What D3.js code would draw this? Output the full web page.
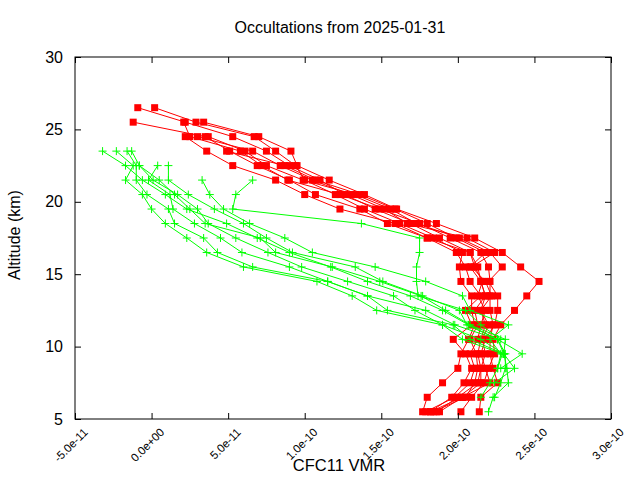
<!DOCTYPE html>
<html><head><meta charset="utf-8">
<script src="https://cdn.jsdelivr.net/npm/d3@7"></script>
<style>html,body{margin:0;padding:0;background:#fff;}svg{display:block;font-family:"Liberation Sans",Arial,sans-serif;}</style>
</head><body>
<svg id="chart" width="640" height="480"></svg>
<script>
// Altitude levels (km) shared by all profiles
const levels = [26.5,25.5,24.5,23.5,22.5,21.5,20.5,19.5,18.5,17.5,16.5,15.5,14.5,13.5,12.5,11.5,10.5,9.5,8.5,7.5,6.5,5.5];
// VMR values in units of 1e-10 (null = no measurement)
const UNIT = 1e-10;
const redProfiles = [
  [-0.09,0.22,0.53,0.75,0.90,1.10,1.26,1.46,1.69,1.88,2.08,2.13,2.15,2.18,2.15,2.18,2.15,2.13,2.15,2.15,2.03,1.88],
  [0.02,0.29,0.67,0.81,0.94,1.00,1.20,1.39,1.62,1.84,2.03,2.01,2.02,2.09,2.09,2.11,2.07,2.02,2.00,1.90,1.80,1.77],
  [null,-0.12,0.35,0.51,0.69,0.90,1.07,1.36,1.54,1.80,1.99,2.05,2.08,2.15,2.05,2.09,1.97,2.05,2.09,2.04,1.96,1.82],
  [null,0.21,0.25,0.58,0.72,0.89,1.23,1.49,1.75,1.95,2.15,2.20,2.21,2.21,2.21,2.23,2.21,2.21,2.23,2.26,2.15,2.14],
  [null,0.34,0.70,0.91,0.95,1.16,1.39,1.60,1.86,2.11,2.29,2.41,2.53,2.45,2.37,2.28,2.23,2.24,2.20,2.17,2.09,2.02],
  [null,null,0.22,0.36,0.53,0.81,1.00,1.23,1.59,1.80,2.08,2.11,2.16,2.13,2.18,2.15,2.13,2.08,2.11,2.08,1.98,1.79],
  [null,null,0.37,0.61,0.75,0.99,1.33,1.56,1.73,2.01,2.21,2.29,2.20,2.26,2.26,2.24,2.18,2.15,2.18,2.21,2.03,1.82],
  [null,null,0.30,0.66,0.84,1.05,1.30,1.52,1.67,2.06,2.24,2.09,2.18,2.22,2.15,2.20,2.16,2.18,2.15,2.13,2.00,1.86],
  [null,null,null,0.49,0.87,1.07,1.36,1.59,1.80,1.99,2.18,2.08,2.15,2.18,2.11,2.13,2.08,2.12,2.13,2.11,2.05,1.84]
];
const greenProfiles = [
  [null,null,null,-0.32,-0.17,-0.06,0.09,0.23,0.49,0.69,0.90,1.17,1.41,1.69,1.90,2.07,2.26,2.30,2.32,2.33,2.23,2.20],
  [null,null,null,-0.23,-0.12,-0.17,-0.06,0.00,0.09,0.23,0.36,0.60,1.08,1.31,1.47,1.90,2.03,2.29,2.26,2.21,2.15,null],
  [null,null,null,-0.16,-0.10,-0.10,-0.03,0.11,0.15,0.34,0.43,0.66,1.15,1.41,1.54,1.97,2.08,2.30,2.37,2.24,null,null],
  [null,null,null,-0.13,-0.08,0.01,0.17,0.30,0.37,0.55,0.76,0.98,1.28,1.58,1.72,1.90,2.15,2.30,null,null,null,null],
  [null,null,null,null,0.04,-0.02,0.12,0.14,0.28,0.45,0.59,0.90,1.15,1.41,1.79,1.98,2.26,2.42,2.28,null,null,null],
  [null,null,null,null,0.11,0.11,0.24,0.41,0.60,0.75,0.92,1.33,1.51,1.77,2.01,2.06,2.26,2.31,2.31,2.28,2.24,null],
  [null,null,null,null,null,0.33,0.38,0.47,0.64,0.87,1.05,1.46,1.79,2.03,2.08,2.33,2.21,2.28,2.26,null,null,null],
  [null,null,null,null,null,0.66,0.55,0.53,1.37,1.75,1.75,1.73,1.73,1.74,2.05,2.15,2.28,null,null,null,null,null],
  [null,null,null,null,-0.08,0.05,0.15,0.25,0.35,0.71,0.81,1.18,1.49,1.76,1.92,2.08,2.31,2.30,null,null,null,null]
];
const xTicks = [-5e-11,0,5e-11,1e-10,1.5e-10,2e-10,2.5e-10,3e-10];
const xTickLabels = ["-5.0e-11","0.0e+00","5.0e-11","1.0e-10","1.5e-10","2.0e-10","2.5e-10","3.0e-10"];
const yTicks = [5,10,15,20,25,30];
const title = "Occultations from 2025-01-31";
const xLabel = "CFC11 VMR";
const yLabel = "Altitude (km)";

const svg = d3.select("#chart");
const L = 75, R = 611, T = 57, B = 419;
const x = d3.scaleLinear().domain([-5e-11, 3e-10]).range([L, R]);
const y = d3.scaleLinear().domain([5, 30]).range([B, T]);

function toPoints(p){ return p.map((v,i)=> v==null?null:{x:v*UNIT, y:levels[i]}).filter(d=>d); }
const line = d3.line().x(d=>x(d.x)).y(d=>y(d.y));

// red profiles
const gRed = svg.append("g");
redProfiles.forEach(p=>{
  const pts = toPoints(p);
  gRed.append("path").attr("d", line(pts)).attr("fill","none").attr("stroke","#ff0000").attr("stroke-width",1);
  gRed.selectAll(null).data(pts).enter().append("rect")
    .attr("x", d=>x(d.x)-3.5).attr("y", d=>y(d.y)-3.5).attr("width",7).attr("height",7).attr("fill","#ff0000");
});
// green profiles
const gGreen = svg.append("g");
greenProfiles.forEach(p=>{
  const pts = toPoints(p);
  gGreen.append("path").attr("d", line(pts)).attr("fill","none").attr("stroke","#00ff00").attr("stroke-width",1);
  gGreen.selectAll(null).data(pts).enter().append("path")
    .attr("d", d=>{const cx=x(d.x), cy=y(d.y); return `M${cx-4},${cy}H${cx+4}M${cx},${cy-4}V${cy+4}`;})
    .attr("stroke","#00ff00").attr("stroke-width",1).attr("fill","none");
});

// frame
svg.append("rect").attr("x",L).attr("y",T).attr("width",R-L).attr("height",B-T)
  .attr("fill","none").attr("stroke","#000").attr("stroke-width",1);

// axes (ticks inward, mirrored)
const xAxisB = d3.axisBottom(x).tickValues(xTicks).tickSize(-6).tickFormat((d,i)=>xTickLabels[i]);
const gx = svg.append("g").attr("transform",`translate(0,${B})`).call(xAxisB);
gx.select(".domain").remove();
gx.selectAll("text").attr("font-size",11.5).attr("fill","#000").attr("font-family","Liberation Sans, Arial, sans-serif")
  .attr("text-anchor","end").attr("dy",null).attr("y",null)
  .attr("transform","translate(13,14) rotate(-45)");
const gxT = svg.append("g").attr("transform",`translate(0,${T})`).call(d3.axisTop(x).tickValues(xTicks).tickSize(-6).tickFormat(""));
gxT.select(".domain").remove();

const gy = svg.append("g").attr("transform",`translate(${L},0)`).call(d3.axisLeft(y).tickValues(yTicks).tickSize(-6).tickPadding(12));
gy.select(".domain").remove();
gy.selectAll("text").attr("font-size",16).attr("fill","#000").attr("font-family","Liberation Sans, Arial, sans-serif");
const gyR = svg.append("g").attr("transform",`translate(${R},0)`).call(d3.axisRight(y).tickValues(yTicks).tickSize(-6).tickFormat(""));
gyR.select(".domain").remove();
svg.selectAll(".tick line").attr("stroke","#000");

// labels
svg.append("text").attr("x",340).attr("y",33).attr("text-anchor","middle").attr("font-size",16).text(title);
svg.append("text").attr("x",339).attr("y",471).attr("text-anchor","middle").attr("font-size",16.5).text(xLabel);
svg.append("text").attr("transform","translate(20,235) rotate(-90)").attr("text-anchor","middle").attr("font-size",16).text(yLabel);
</script>
</body></html>
